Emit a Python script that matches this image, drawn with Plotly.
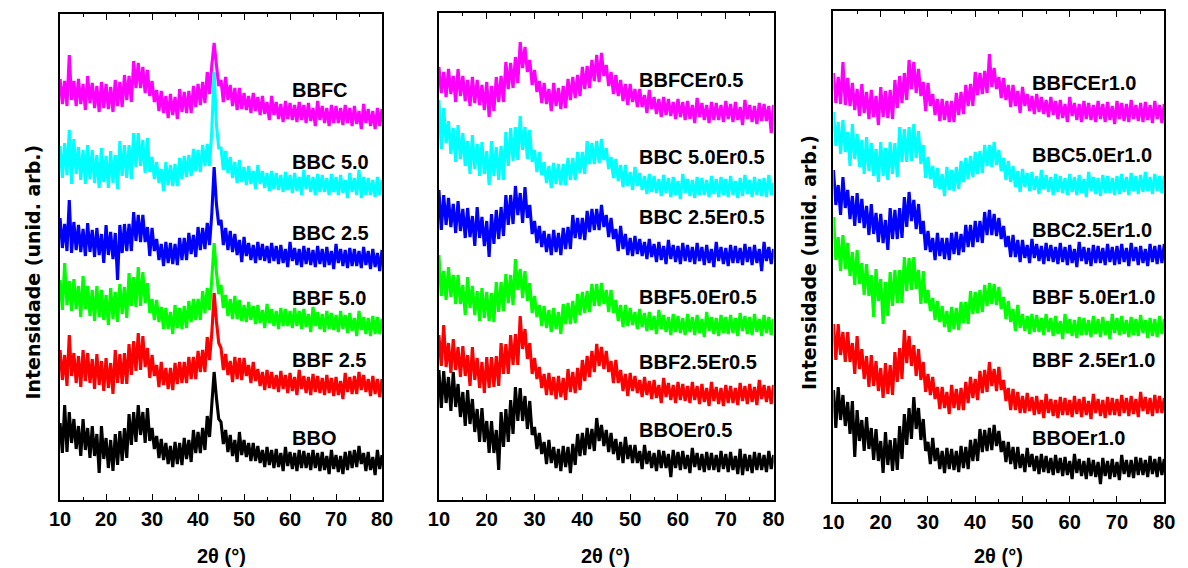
import numpy as np
import plotly.graph_objects as go

# 2-theta sampling grid (degrees)
two_theta = np.linspace(10, 80, 141)

# ---------------- Panel 1: undoped glasses ----------------
bbfc = [416,391,414,389,440,395,414,389,416,391,411,385,419,392,412,387,409,383,413,387,
        411,386,408,383,415,389,413,388,420,395,419,393,434,407,432,407,428,402,425,399,
        414,393,405,384,404,382,399,377,401,380,398,376,406,383,403,382,404,382,409,388,
        411,390,413,392,423,401,430,452,430,409,415,393,418,395,410,389,407,385,407,386,
        402,385,399,382,402,384,398,380,399,381,393,375,399,380,393,376,391,373,394,376,
        392,375,390,373,393,375,390,372,392,374,387,369,394,375,389,372,387,369,390,372,
        389,372,387,370,390,372,387,369,389,371,384,366,391,372,386,369,384,366,387,369,
        386]
bbc50 = [349,317,352,320,365,311,356,321,348,315,345,311,350,316,345,312,340,307,347,313,
         339,307,344,312,340,306,354,319,350,317,350,316,362,328,362,329,355,322,357,323,
         338,316,333,312,326,304,333,310,330,309,331,309,337,316,339,318,340,319,346,324,
         345,323,350,329,351,329,365,423,370,347,347,325,344,322,338,317,333,312,335,313,
         328,310,329,311,324,306,330,311,324,307,322,304,324,306,322,305,320,303,323,305,
         320,302,322,304,318,300,325,306,320,303,318,300,321,303,320,303,317,300,321,303,
         318,300,320,302,315,297,322,303,317,300,325,297,318,300,317,300,315,298,318,300,
         315]
bbc25 = [277,247,271,244,295,242,273,245,270,243,266,239,272,243,265,238,267,240,261,232,
         270,240,263,236,262,215,270,242,271,244,271,244,283,254,280,253,280,253,268,239,
         267,244,256,235,251,229,253,232,252,231,251,230,257,235,257,235,262,241,260,238,
         268,245,267,246,272,250,282,328,291,270,275,250,267,245,264,243,261,240,255,233,
         258,239,252,235,250,232,253,235,251,234,249,232,252,234,249,231,250,232,246,228,
         253,234,247,230,246,228,249,231,247,230,245,228,249,231,246,228,248,230,244,226,
         251,232,246,229,245,227,247,229,246,229,244,227,248,230,244,226,246,228,242,224,
         245]
bbf50 = [215,185,232,190,214,184,216,186,209,178,219,186,209,179,205,174,209,178,205,175,
         200,170,207,176,203,173,211,181,208,177,222,189,218,188,228,189,223,192,212,182,
         196,175,195,173,188,166,187,166,183,161,190,167,187,166,189,167,194,173,196,175,
         196,175,204,182,207,185,217,252,223,201,210,187,200,179,196,176,199,176,195,174,
         190,173,193,175,189,171,190,172,185,167,191,172,186,169,184,166,187,169,186,169,
         184,167,187,169,184,166,186,168,181,163,188,169,183,166,181,163,184,166,182,165,
         180,163,184,166,180,162,182,164,177,159,184,165,178,161,177,159,179,161,178,161,
         176]
bbf25 = [145,115,140,109,160,119,142,112,139,108,145,114,142,112,136,106,141,110,134,104,
         137,107,132,101,145,112,141,111,142,111,151,120,154,124,162,125,159,128,147,117,
         140,119,130,108,133,110,127,106,127,105,132,111,133,112,133,112,138,116,138,116,
         144,123,145,123,158,135,162,202,174,152,147,125,141,120,134,113,138,116,137,115,
         137,119,130,112,133,114,126,109,123,105,125,107,123,106,120,103,124,106,120,102,
         122,104,118,100,125,106,119,102,118,100,121,103,119,102,117,100,120,102,117,99,
         118,100,114,96,122,103,118,101,119,101,123,105,120,103,116,99,119,101,116,98,
         116]
bbo = [72,42,90,43,83,52,76,46,69,39,76,45,67,37,69,39,61,22,69,36,
       57,27,55,24,61,30,64,34,67,37,81,50,83,53,90,60,83,52,87,54,
       67,46,59,37,56,35,52,31,49,28,53,31,52,30,57,36,55,33,65,42,
       63,42,67,45,79,58,91,123,97,76,73,51,65,43,60,39,55,33,63,40,
       55,38,52,34,52,34,49,32,45,28,48,30,45,27,46,28,42,24,48,29,
       43,26,42,24,45,27,44,27,42,25,45,27,42,24,43,25,39,21,45,26,
       40,23,39,21,43,25,44,27,45,28,49,31,42,24,43,25,38,20,45,26,
       40]

# ---------------- Panel 2: 0.5 % Er ----------------
bbfc_er05 = [428,402,423,398,426,401,419,393,426,399,419,394,415,389,418,392,415,390,410,385,
             413,378,409,384,418,393,419,393,433,406,432,407,438,412,453,427,448,423,435,410,
             425,403,414,392,412,391,406,384,412,389,407,386,409,387,416,395,418,397,420,399,
             428,406,429,407,435,414,440,413,442,419,430,409,423,401,420,399,415,394,411,390,
             411,393,406,388,406,388,400,382,405,386,398,381,396,378,398,380,396,379,393,376,
             396,378,393,375,394,376,390,372,397,378,392,375,390,372,393,375,392,375,390,373,
             394,376,391,373,393,375,388,370,395,376,390,373,389,371,392,374,391,374,389,362,
             390]
bbc50_er05 = [395,346,387,352,374,341,367,333,370,336,362,329,354,321,360,326,351,319,353,321,
              344,310,354,319,348,315,349,315,363,329,367,334,368,335,379,345,368,336,365,333,
              345,323,343,320,333,312,329,307,332,311,331,310,331,310,337,315,337,315,343,322,
              343,321,354,331,352,331,354,332,356,335,347,326,338,317,336,314,330,308,330,309,
              323,305,328,309,322,305,319,301,321,303,319,302,316,299,320,302,317,298,318,300,
              314,296,321,302,316,299,315,297,318,300,317,300,315,298,319,301,316,298,318,300,
              316,298,319,300,314,297,317,299,320,301,315,298,318,300,316,299,317,298,320,300,
              312]
bbc25_er05 = [305,265,300,270,297,268,291,262,294,264,286,257,287,258,279,249,288,257,278,249,
              274,238,281,251,285,256,288,259,300,270,300,271,309,280,302,272,308,277,290,261,
              274,252,269,248,264,243,261,240,265,243,262,240,267,246,268,246,280,257,277,256,
              277,255,284,263,286,265,286,265,290,268,280,258,277,256,266,244,269,246,261,240,
              257,239,259,241,256,239,253,236,256,238,251,233,253,235,249,231,255,236,250,233,
              249,231,252,234,250,233,248,231,252,234,248,230,250,232,246,228,253,234,248,231,
              247,229,250,232,249,232,247,230,251,233,248,230,250,232,246,224,253,234,248,231,
              246]
bbf50_er05 = [240,199,224,195,228,198,220,191,220,191,210,180,218,187,209,180,204,174,207,177,
              203,174,202,173,213,183,213,184,221,192,220,190,236,205,226,197,224,194,212,182,
              199,178,190,169,189,167,185,163,187,166,183,161,191,171,192,171,194,172,201,180,
              203,182,204,183,211,189,211,189,212,191,205,183,205,182,195,174,190,168,190,169,
              187,170,183,166,186,168,182,164,183,165,179,161,185,166,180,163,178,160,181,163,
              179,162,177,160,181,163,178,160,180,162,176,158,183,164,178,161,177,159,180,162,
              178,161,180,162,177,159,182,164,179,161,178,160,181,163,176,159,180,162,178,160,
              176]
bbf25_er05 = [160,129,170,128,152,122,156,125,148,118,149,119,140,109,148,115,137,107,133,102,
              138,107,138,108,139,109,152,121,151,121,160,130,161,130,179,146,166,136,152,121,
              137,116,128,107,121,100,122,100,118,96,119,98,117,95,126,103,123,102,127,105,
              135,114,139,118,144,123,151,129,148,126,144,123,134,112,135,112,125,104,121,99,
              122,104,119,102,115,98,118,100,114,96,115,97,110,92,117,98,112,95,110,92,
              113,95,111,94,109,92,113,95,109,91,111,93,107,89,113,94,108,91,107,89,
              110,92,109,92,107,90,112,94,109,91,111,93,108,90,115,96,110,93,109,91,
              110]
bbo_er05 = [125,87,124,92,118,84,123,88,111,78,103,69,105,71,96,63,86,53,87,53,
            74,42,74,42,65,25,83,48,86,53,95,61,108,74,107,74,99,66,94,60,
            68,46,62,41,53,31,55,32,48,27,46,24,49,28,48,22,51,30,61,39,
            62,40,67,46,66,44,77,54,70,49,65,43,62,41,56,35,53,32,58,36,
            50,32,50,32,44,26,50,31,44,27,42,24,45,27,44,27,41,18,45,27,
            43,25,44,26,40,22,47,28,42,25,41,23,43,25,42,25,40,23,44,26,
            41,23,43,25,39,21,46,20,41,24,40,22,43,25,42,25,40,23,44,26,
            40]

# ---------------- Panel 3: 1.0 % Er ----------------
bbfc_er10 = [429,399,425,398,440,397,424,396,419,392,413,386,418,389,410,383,412,385,406,377,
             415,385,411,384,412,383,422,394,426,399,429,402,442,413,440,409,433,406,420,391,
             419,396,408,387,403,381,403,382,401,380,401,380,409,387,410,388,417,396,418,396,
             430,407,429,408,431,409,448,415,434,413,425,404,424,402,417,395,417,396,411,389,
             415,396,408,391,406,388,408,390,405,388,402,385,405,387,401,383,402,384,398,380,
             405,386,399,382,398,380,401,383,399,382,397,380,401,383,398,380,400,382,396,378,
             401,383,399,381,398,380,402,383,397,381,399,380,400,382,397,379,401,383,397,379,
             398]
bbc50_er10 = [390,356,380,348,382,350,370,336,378,343,368,335,362,328,365,331,359,326,353,320,
              360,326,354,322,360,328,359,325,375,340,373,340,375,341,378,344,371,338,357,324,
              345,323,336,314,334,313,328,306,335,312,332,311,335,313,341,320,344,323,346,325,
              350,328,351,329,357,336,357,335,360,337,352,331,344,322,341,320,336,315,331,310,
              333,315,329,311,330,312,326,308,332,313,327,310,325,307,328,310,326,309,324,307,
              328,310,325,307,327,309,323,305,330,311,325,308,324,306,327,309,326,309,324,307,
              326,308,328,310,325,307,329,311,326,308,327,310,330,311,325,308,328,311,326,309,
              326]
bbc25_er10 = [332,297,317,287,325,294,312,283,306,276,309,279,303,274,296,267,298,268,289,260,
              288,259,282,252,294,263,292,263,294,264,305,275,310,281,302,273,298,268,281,252,
              271,250,264,242,269,246,264,243,264,242,269,248,270,247,268,250,277,255,277,255,
              281,260,281,259,290,267,292,267,288,266,284,263,276,255,266,245,267,245,262,240,
              262,244,257,239,263,244,258,241,256,238,259,241,257,240,255,238,259,240,255,237,
              257,239,253,235,260,241,255,238,254,236,257,239,256,239,254,237,258,240,255,237,
              256,238,258,240,254,236,259,241,255,237,256,239,253,236,258,240,256,238,257,239,
              258]
bbf50_er10 = [285,242,265,231,267,233,259,226,250,217,252,218,239,207,238,206,227,185,233,201,
              223,178,220,186,230,196,232,199,232,199,245,211,244,212,245,213,232,198,231,199,
              212,191,204,182,201,180,196,175,191,170,195,173,194,172,200,179,200,178,211,188,
              210,189,212,190,217,196,219,198,218,197,215,193,205,183,201,180,193,171,197,174,
              188,171,186,168,188,170,187,170,184,167,188,170,184,166,186,168,181,163,188,169,
              183,166,182,164,185,167,184,167,182,165,186,168,183,165,185,167,181,163,188,169,
              184,167,186,168,182,165,185,167,183,166,187,169,182,164,184,166,183,165,186,168,
              183]
bbf25_er10 = [178,142,178,147,170,140,170,140,159,128,166,133,153,123,146,115,147,116,141,111,
              134,104,139,108,137,107,150,120,154,123,172,139,166,136,157,126,153,122,140,110,
              128,107,125,103,115,93,115,94,110,88,117,94,113,92,114,92,120,99,125,104,
              123,102,131,109,132,110,140,116,133,111,135,112,122,101,114,92,113,92,110,89,
              106,89,109,91,105,87,106,88,102,84,108,89,103,86,102,84,105,87,104,87,
              102,85,106,88,103,85,105,87,101,83,108,89,103,86,102,84,105,87,104,87,
              103,86,107,89,104,86,106,88,103,85,110,91,105,88,104,86,107,89,106,89,
              104]
bbo_er10 = [112,74,115,82,107,76,100,68,101,45,92,61,82,51,85,53,74,42,73,41,
            61,29,70,37,62,31,64,32,76,43,88,57,94,63,105,73,94,62,83,51,
            60,38,64,41,54,33,51,29,54,33,53,32,51,30,56,34,55,33,62,41,
            63,41,73,50,72,51,74,52,77,56,71,50,61,40,60,38,55,33,55,34,
            48,30,54,35,48,31,46,28,48,30,46,29,44,27,47,29,44,26,45,27,
            41,23,48,29,43,26,41,23,44,26,42,25,40,18,44,26,41,23,43,25,
            40,22,47,28,42,25,42,24,45,27,44,27,42,25,46,28,43,25,45,27,
            43]

# Sample names, top to bottom in each panel
labels_p1 = ["BBFC", "BBC 5.0", "BBC 2.5", "BBF 5.0", "BBF 2.5", "BBO"]
labels_p2 = ["BBFCEr0.5", "BBC 5.0Er0.5", "BBC 2.5Er0.5", "BBF5.0Er0.5", "BBF2.5Er0.5", "BBOEr0.5"]
labels_p3 = ["BBFCEr1.0", "BBC5.0Er1.0", "BBC2.5Er1.0", "BBF 5.0Er1.0", "BBF 2.5Er1.0", "BBOEr1.0"]

# Vertical position of each sample name (same units as the stacked patterns)
label_y_p1 = [405, 333, 262, 197, 135, 57]
label_y_p2 = [415, 338, 278, 198, 133, 65]
label_y_p3 = [419, 347, 272, 205, 142, 64]
label_x = [60.0, 51.5, 51.6]

colors = ["#FF00FF", "#00FFFF", "#0000FF", "#00FF00", "#FF0000", "#000000"]

panels = [
    ([bbfc, bbc50, bbc25, bbf50, bbf25, bbo], labels_p1, label_y_p1),
    ([bbfc_er05, bbc50_er05, bbc25_er05, bbf50_er05, bbf25_er05, bbo_er05], labels_p2, label_y_p2),
    ([bbfc_er10, bbc50_er10, bbc25_er10, bbf50_er10, bbf25_er10, bbo_er10], labels_p3, label_y_p3),
]

W, H = 1188, 568
# plot-area boxes in pixels: left, right, top, bottom
boxes = [(50, 378, 14, 500), (436, 777, 13, 500), (838, 1175, 11, 502)]
y_ranges = [[-5, 481], [-5, 482], [0, 491]]

fig = go.Figure()
label_font = dict(family="Liberation Sans, Arial, sans-serif", size=20, color="black", weight="bold")

for i, (series, names, ys) in enumerate(panels):
    ax = "" if i == 0 else str(i + 1)
    for vals, name, col in zip(series, names, colors):
        fig.add_trace(go.Scatter(
            x=two_theta, y=vals, mode="lines", name=name,
            line=dict(color=col, width=3.1),
            xaxis="x" + ax, yaxis="y" + ax, showlegend=False,
        ))
    for name, yv in zip(names, ys):
        fig.add_annotation(
            x=label_x[i], y=yv, xref="x" + ax, yref="y" + ax,
            text=name, showarrow=False, xanchor="left", yanchor="middle",
            font=label_font,
        )

    l, r, t, b = boxes[i]
    xa = dict(
        domain=[l / W, r / W], anchor="y" + ax, range=[10, 80],
        tickmode="linear", tick0=10, dtick=10,
        ticks="inside", ticklen=6, tickwidth=1.3, tickcolor="black",
        minor=dict(dtick=5, ticks="inside", ticklen=3.5, tickwidth=1.3, tickcolor="black"),
        mirror="allticks", showline=True, linewidth=1.5, linecolor="black",
        showgrid=False, zeroline=False,
        tickfont=dict(family="Liberation Sans, Arial, sans-serif", size=20, color="black", weight="bold"),
        ticklabelstandoff=0 if i < 2 else 1,
    )
    ya = dict(
        domain=[1 - b / H, 1 - t / H], anchor="x" + ax, range=y_ranges[i],
        showticklabels=False, ticks="", showgrid=False, zeroline=False,
        showline=True, mirror=True, linewidth=1.5, linecolor="black",
    )
    fig.update_layout(**{"xaxis" + ax: xa, "yaxis" + ax: ya})

# Axis titles
title_font = dict(family="Liberation Sans, Arial, sans-serif", size=20, color="black", weight="bold")
for cx in (214, 606, 1006):
    fig.add_annotation(x=cx / W, y=1 - 556 / H, xref="paper", yref="paper",
                       text="2θ (°)", showarrow=False, xanchor="center", yanchor="middle",
                       font=title_font)
ytitle_font = dict(family="DejaVu Sans, sans-serif", size=19, color="black", weight="bold")
for cx, cy in ((22, 272), (813, 262)):
    fig.add_annotation(x=cx / W, y=1 - cy / H, xref="paper", yref="paper",
                       text="Intensidade (unid. arb.)", showarrow=False, textangle=-90,
                       xanchor="center", yanchor="middle", font=ytitle_font)

fig.update_layout(
    width=W, height=H, margin=dict(l=0, r=0, t=0, b=0),
    paper_bgcolor="white", plot_bgcolor="white",
)

fig.write_html("out.html")
